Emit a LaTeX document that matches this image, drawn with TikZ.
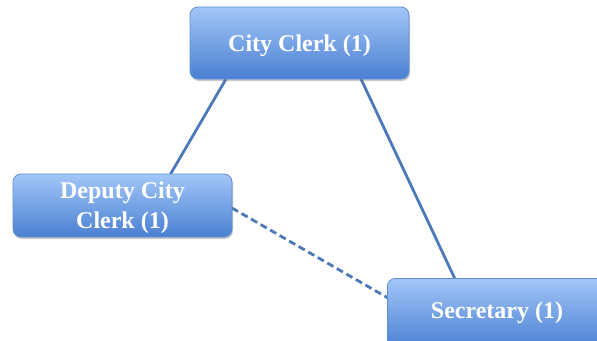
\documentclass[tikz,border=0pt]{standalone}
\usepackage{fontspec}
\setmainfont{Liberation Serif}
\usetikzlibrary{shadows}
\definecolor{boxtop}{HTML}{A2C6F8}
\definecolor{boxbot}{HTML}{4A80D2}
\definecolor{boxline}{HTML}{5F8FD3}
\definecolor{linkcol}{HTML}{4C79B8}
\tikzset{
  rolefont/.style={font=\bfseries\fontsize{24}{30}\selectfont},
  role/.style={draw=boxline, line width=0.8pt, rounded corners=8pt,
    top color=boxtop, bottom color=boxbot, text=white, rolefont, align=center,
    drop shadow={shadow xshift=1pt, shadow yshift=-2pt, opacity=0.35, fill=black!60}},
  link/.style={draw=linkcol, line width=2.8pt},
  dashlink/.style={link, dash pattern=on 7pt off 4pt}
}
\begin{document}
\begin{tikzpicture}[x=1pt,y=-1pt]
\useasboundingbox (0,0) rectangle (597,340);
\clip (0,0) rectangle (597,340);
% connectors drawn first so the boxes sit on top
\coordinate (ccl) at (226,79);
\coordinate (ccr) at (361,79);
\coordinate (dtop) at (170,175);
\coordinate (dright) at (232,208);
\coordinate (sleft) at (388,298);
\coordinate (stop) at (455,279);
\draw[link] (ccl) -- (dtop);
\draw[link] (ccr) -- (stop);
\draw[dashlink] (dright) -- (sleft);
% boxes
\node[role, minimum width=219pt, minimum height=72pt] (clerk) at (299.5,43) {};
\node[text=white, rolefont] (clerktext) at (299.5,46) {City Clerk (1)};
\node[role, minimum width=219pt, minimum height=63pt] (deputy) at (122.5,205.5) {};
\node[text=white, rolefont, align=center] (deputytext) at (122.5,208) {Deputy City\\Clerk (1)};
\node[role, minimum width=230pt, minimum height=70pt, anchor=north west] (sec) at (387,278) {};
\node[text=white, rolefont] (sectext) at (497,313) {Secretary (1)};
\end{tikzpicture}
\end{document}
